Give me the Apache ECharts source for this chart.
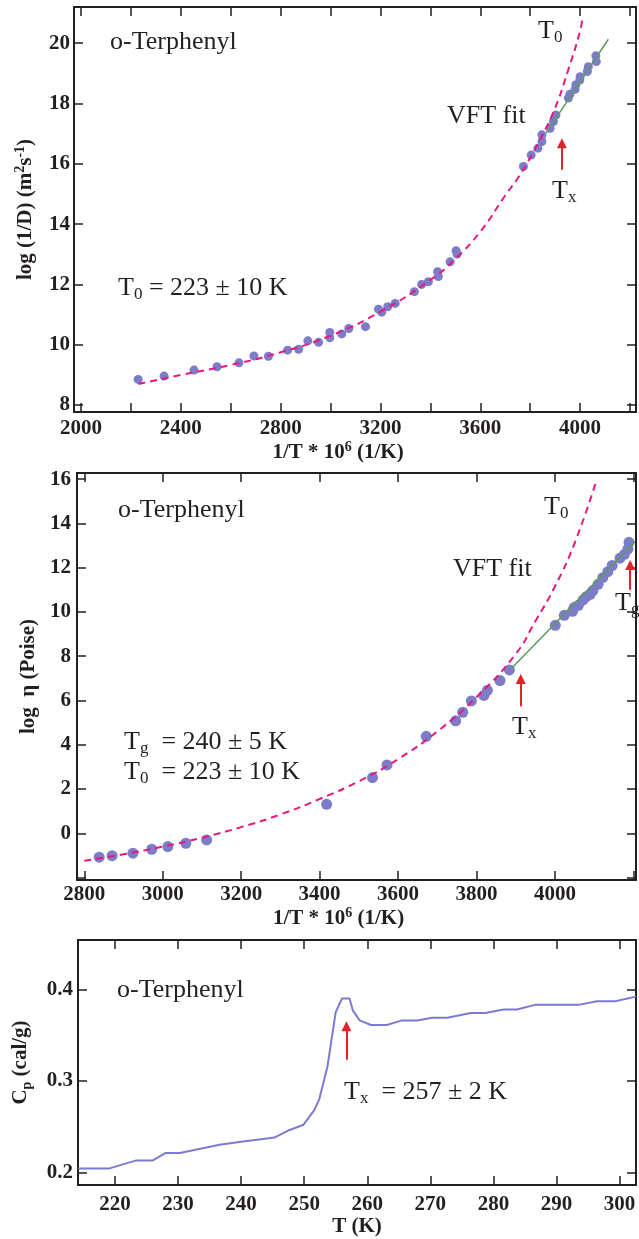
<!DOCTYPE html>
<html><head><meta charset="utf-8">
<script src="https://cdn.jsdelivr.net/npm/echarts@6/dist/echarts.min.js"></script>
<style>html,body{margin:0;padding:0;background:#fff}#c{width:639px;height:1239px}</style>
</head><body><div id="c"></div>
<script>
// ---------- Panel 1: diffusion ----------
const diffX = [2229, 2333, 2453, 2545, 2633, 2693, 2751, 2828, 2872, 2909, 2952, 2997, 2997, 3045, 3073, 3140, 3192, 3205, 3229, 3259, 3336, 3365, 3392, 3429, 3432, 3479, 3503, 3507, 3773, 3804, 3831, 3847, 3847, 3880, 3893, 3903, 3953, 3959, 3980, 3983, 3999, 4000, 4029, 4033, 4065, 4063];
const diffY = [8.85, 8.96, 9.16, 9.27, 9.40, 9.63, 9.62, 9.82, 9.85, 10.13, 10.08, 10.41, 10.23, 10.36, 10.54, 10.60, 11.18, 11.08, 11.26, 11.37, 11.76, 12.00, 12.09, 12.42, 12.26, 12.75, 13.12, 13.01, 15.91, 16.29, 16.52, 16.74, 16.96, 17.18, 17.40, 17.62, 18.18, 18.31, 18.47, 18.62, 18.78, 18.89, 19.06, 19.22, 19.39, 19.58];
const vft1X = [2230, 2400, 2600, 2800, 3000, 3200, 3400, 3500, 3600, 3700, 3750, 3800, 3850, 3900, 3950, 4000, 4009];
const vft1Y = [8.70, 9.00, 9.33, 9.75, 10.30, 11.10, 12.15, 12.85, 13.75, 14.95, 15.52, 16.20, 16.97, 17.85, 19.05, 20.40, 20.83];
const fit1X = [3863, 4113];
const fit1Y = [17.01, 20.13];
const arrow1 = [3927, 15.80, 16.68];

// ---------- Panel 2: viscosity ----------
const viscX = [2838, 2871, 2924, 2972, 3013, 3059, 3112, 3418, 3535, 3572, 3672, 3747, 3765, 3787, 3819, 3828, 3860, 3884, 4001, 4024, 4045, 4049, 4060, 4072, 4080, 4090, 4097, 4110, 4122, 4135, 4146, 4166, 4177, 4186, 4189];
const viscY = [-1.08, -1.01, -0.90, -0.72, -0.60, -0.45, -0.30, 1.31, 2.52, 3.09, 4.38, 5.08, 5.47, 5.98, 6.23, 6.46, 6.90, 7.38, 9.40, 9.85, 10.03, 10.20, 10.30, 10.55, 10.69, 10.80, 10.97, 11.25, 11.55, 11.82, 12.10, 12.43, 12.60, 12.84, 13.15];
const vft2X = [2800, 2900, 3000, 3100, 3200, 3300, 3400, 3500, 3600, 3700, 3800, 3900, 3950, 4000, 4050, 4105];
const vft2Y = [-1.24, -0.95, -0.60, -0.20, 0.28, 0.85, 1.55, 2.35, 3.35, 4.60, 6.15, 8.10, 9.58, 11.15, 13.10, 15.89];
const fit2X = [3889, 4204];
const fit2Y = [7.45, 13.18];
const arrow2x = [3913, 5.74, 6.97];
const arrow2g = [4192, 11.00, 12.12];

// ---------- Panel 3: heat capacity ----------
const cpT = [214.2, 219.0, 223.4, 226.0, 228.0, 230.3, 236.6, 239.7, 245.3, 247.6, 249.9, 251.6, 252.4, 253.7, 255.0, 256.0, 257.2, 257.7, 258.8, 260.6, 263.1, 265.5, 267.9, 270.3, 272.7, 276.4, 278.7, 281.6, 283.7, 286.6, 293.5, 296.4, 299.3, 302.6];
const cpV = [0.204, 0.204, 0.213, 0.213, 0.221, 0.221, 0.230, 0.233, 0.238, 0.246, 0.252, 0.268, 0.280, 0.316, 0.375, 0.390, 0.390, 0.377, 0.366, 0.361, 0.361, 0.366, 0.366, 0.369, 0.369, 0.374, 0.374, 0.378, 0.378, 0.383, 0.383, 0.387, 0.387, 0.392];
const arrow3 = [256.7, 0.323, 0.3595];

const zip = (a, b) => a.map((v, i) => [v, b[i]]);

const INK = '#231f20';
const FONT = '"Liberation Serif","Times New Roman",Times,serif';
const DOT = '#7c7cc9';
const PINK = '#e8187f';
const GREEN = '#5c9c5c';
const RED = '#e3232b';

function onStep(v, step) { const r = v / step; return Math.abs(r - Math.round(r)) < 1e-6; }

const NAME_RICH = {
  b: { fontFamily: FONT, fontWeight: 'bold', fontSize: 21, lineHeight: 26, color: INK },
  sup: { fontFamily: FONT, fontWeight: 'bold', fontSize: 14, lineHeight: 16, verticalAlign: 'top', color: INK },
  sub: { fontFamily: FONT, fontWeight: 'bold', fontSize: 14, lineHeight: 14, verticalAlign: 'bottom', color: INK }
};

function axisBase(grid, min, max, step) {
  return {
    type: 'value', gridIndex: grid, min, max, minInterval: step, maxInterval: step, splitNumber: 30,
    axisLine: { show: true, onZero: false, lineStyle: { color: INK, width: 2 } },
    axisTick: { show: true, inside: true, length: 9, lineStyle: { color: INK, width: 1.5 } },
    splitLine: { show: false },
    minorTick: { show: false }
  };
}
function labeled(base, margin, fmt) {
  return Object.assign(base, {
    axisLabel: { show: true, margin, color: INK, fontFamily: FONT, fontWeight: 'bold', fontSize: 21, formatter: fmt, showMinLabel: true, showMaxLabel: true }
  });
}
function bare(base) { return Object.assign(base, { axisLabel: { show: false } }); }
function named(ax, name, gap, extra) {
  return Object.assign(ax, {
    name, nameLocation: 'middle', nameGap: gap,
    nameTextStyle: Object.assign({ fontFamily: FONT, fontWeight: 'bold', fontSize: 21, color: INK, rich: NAME_RICH }, extra || {})
  });
}

const xAxis = [
  named(Object.assign(labeled(axisBase(0, 1972, 4224, 200), 6, v => onStep(v, 400) ? String(v) : ''), { position: 'bottom' }),
    '{b|1/T * 10}{sup|6}{b| (1/K)}', 26, { padding: [0, 34, 0, 0] }),
  Object.assign(bare(axisBase(0, 1972, 4224, 200)), { position: 'top' }),
  named(Object.assign(labeled(axisBase(1, 2781.5, 4206.8, 200), 4, v => (onStep(v, 200) && v < 4100) ? String(v) : ''), { position: 'bottom' }),
    '{b|1/T * 10}{sup|6}{b| (1/K)}', 24, { padding: [0, 36, 0, 0] }),
  Object.assign(bare(axisBase(1, 2781.5, 4206.8, 200)), { position: 'top' }),
  named(Object.assign(labeled(axisBase(2, 214.15, 302.6, 10), 9, v => onStep(v, 10) ? String(Math.round(v)) : ''), { position: 'bottom' }),
    '{b|T (K)}', 28),
  Object.assign(bare(axisBase(2, 214.15, 302.6, 10)), { position: 'top' })
];
const yAxis = [
  named(Object.assign(labeled(axisBase(0, 7.77, 21.2, 2), 4, v => onStep(v, 2) ? String(Math.round(v)) : ''), { position: 'left', nameRotate: 90 }),
    '{b|log (1/D) (m}{sup|2}{b|s}{sup|-1}{b|)}', 35),
  Object.assign(bare(axisBase(0, 7.77, 21.2, 2)), { position: 'right' }),
  named(Object.assign(labeled(axisBase(1, -2.11, 16.28, 2), 6, v => (onStep(v, 2) && v > -0.5) ? String(Math.round(v)) : ''), { position: 'left', nameRotate: 90 }),
    '{b|log  η (Poise)}', 32),
  Object.assign(bare(axisBase(1, -2.11, 16.28, 2)), { position: 'right' }),
  named(Object.assign(labeled(axisBase(2, 0.1861, 0.4539, 0.1), 5, v => onStep(v, 0.1) ? v.toFixed(1) : ''), { position: 'left', nameRotate: 90 }),
    '{b|C}{sub|p}{b| (cal/g)}', 44),
  Object.assign(bare(axisBase(2, 0.1861, 0.4539, 0.1)), { position: 'right' })
];

function arrowSeries(xi, yi, a) {
  return {
    type: 'scatter', xAxisIndex: xi, yAxisIndex: yi, data: [], silent: true,
    markLine: {
      silent: true, animation: false, symbol: ['none', 'triangle'], symbolSize: [10, 10],
      label: { show: false },
      lineStyle: { color: RED, width: 2, type: 'solid' },
      emphasis: { disabled: true },
      data: [[{ coord: [a[0], a[1]] }, { coord: [a[0], a[2]] }]]
    }
  };
}
function dots(xi, yi, x, y, size) {
  return { type: 'scatter', xAxisIndex: xi, yAxisIndex: yi, data: zip(x, y), symbolSize: size, itemStyle: { color: DOT, opacity: 1 }, silent: true };
}
function dashed(xi, yi, x, y) {
  return { type: 'line', xAxisIndex: xi, yAxisIndex: yi, data: zip(x, y), smooth: 0.5, showSymbol: false, silent: true,
    lineStyle: { color: PINK, width: 2, type: [7, 5] } };
}
function solid(xi, yi, x, y, color, w) {
  return { type: 'line', xAxisIndex: xi, yAxisIndex: yi, data: zip(x, y), showSymbol: false, silent: true,
    lineStyle: { color, width: w, type: 'solid' } };
}

const RICH = {
  m: { fontFamily: FONT, fontSize: 26, lineHeight: 30, fill: INK },
  s: { fontFamily: FONT, fontSize: 17, lineHeight: 14, verticalAlign: 'bottom', fill: INK }
};
const ann = (x, y, text) => ({ type: 'text', x, y, silent: true, z: 100,
  style: { text, align: 'left', verticalAlign: 'top', rich: RICH, fill: INK, fontFamily: FONT, fontSize: 26 } });

const option = {
  animation: false,
  backgroundColor: '#ffffff',
  grid: [
    { left: 74, top: 7, width: 563, height: 405 },
    { left: 77, top: 473, width: 563, height: 407 },
    { left: 78, top: 940, width: 560, height: 245 }
  ],
  xAxis, yAxis,
  series: [
    dots(0, 0, diffX, diffY, 9),
    dashed(0, 0, vft1X, vft1Y),
    solid(0, 0, fit1X, fit1Y, GREEN, 1.5),
    arrowSeries(0, 0, arrow1),
    dots(2, 2, viscX, viscY, 11),
    dashed(2, 2, vft2X, vft2Y),
    solid(2, 2, fit2X, fit2Y, GREEN, 1.5),
    arrowSeries(2, 2, arrow2x),
    arrowSeries(2, 2, arrow2g),
    solid(4, 4, cpT, cpV, '#7b7bd4', 2),
    arrowSeries(4, 4, arrow3)
  ],
  graphic: [
    ann(110, 27, '{m|o-Terphenyl}'),
    ann(538, 16, '{m|T}{s|0}'),
    ann(447, 101, '{m|VFT fit}'),
    ann(552, 176, '{m|T}{s|x}'),
    ann(118, 273, '{m|T}{s|0}{m| = 223 ± 10 K}'),
    ann(118, 495, '{m|o-Terphenyl}'),
    ann(544, 492, '{m|T}{s|0}'),
    ann(453, 554, '{m|VFT fit}'),
    ann(512, 712, '{m|T}{s|x}'),
    ann(615, 588, '{m|T}{s|g}'),
    ann(124, 727, '{m|T}{s|g}{m|  = 240 ± 5 K}'),
    ann(124, 757, '{m|T}{s|0}{m|  = 223 ± 10 K}'),
    ann(117, 975, '{m|o-Terphenyl}'),
    ann(344, 1077, '{m|T}{s|x}{m|  = 257 ± 2 K}')
  ]
};
const chart = echarts.init(document.getElementById('c'), null, { renderer: 'canvas' });
chart.setOption(option);
</script></body></html>
